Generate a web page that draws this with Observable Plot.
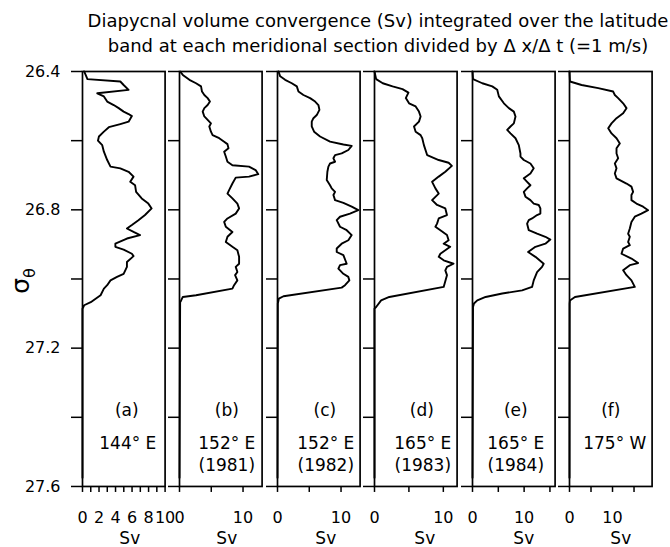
<!DOCTYPE html>
<html>
<head>
<meta charset="utf-8">
<script src="https://cdn.jsdelivr.net/npm/d3@7"></script>
<script src="https://cdn.jsdelivr.net/npm/@observablehq/plot@0.6"></script>
<style>
  body { margin: 0; background: #fff; }
  #chart { position: relative; width: 670px; height: 547px; font-family: "DejaVu Sans", sans-serif; color: #000; overflow: hidden; }
  #chart svg { position: absolute; top: 0; }
  .title { position: absolute; top: 9px; left: 78px; width: 600px; text-align: center; font-size: 18px; line-height: 24.5px; white-space: nowrap; }
</style>
</head>
<body>
<div id="chart">
  <div class="title">Diapycnal volume convergence (Sv) integrated over the latitude<br>band at each meridional section divided by Δ x/Δ t (=1 m/s)</div>
  <svg width="60" height="547" style="left:0">
    <text transform="translate(29,281) rotate(-90)" text-anchor="middle" font-family="DejaVu Sans" font-size="25" fill="#000">σ<tspan font-size="16" dy="6">θ</tspan></text>
  </svg>
</div>
<script>
// ---- data (sigma-theta levels and Sv values) ----
const sigmaA = [26.400,26.422,26.429,26.439,26.453,26.463,26.472,26.487,26.497,26.506,26.516,26.523,26.529,26.545,26.552,26.561,26.574,26.588,26.600,26.613,26.632,26.656,26.675,26.680,26.690,26.704,26.719,26.729,26.748,26.767,26.782,26.796,26.815,26.830,26.844,26.854,26.864,26.873,26.883,26.898,26.907,26.915,26.927,26.934,26.951,26.965,26.985,26.994,27.004,27.018,27.028,27.047,27.057,27.067,27.076,27.086,27.575];
const svA    = [0.2,0.6,4.58,4.98,5.58,1.79,2.59,2.99,3.78,4.38,4.98,5.58,5.98,5.58,4.58,3.19,2.59,1.99,1.87,2.39,2.59,2.99,3.39,4.58,5.58,6.18,5.78,6.37,6.49,7.17,7.97,8.37,7.57,6.77,5.98,5.38,6.18,6.97,5.38,3.98,3.98,4.98,5.98,6.18,5.38,5.38,4.98,4.18,3.39,2.99,2.59,2.19,1.59,1.00,0.20,0,0];

const sigmaB = [26.400,26.410,26.424,26.434,26.443,26.458,26.468,26.477,26.487,26.497,26.506,26.516,26.530,26.540,26.550,26.559,26.574,26.584,26.593,26.603,26.610,26.622,26.632,26.646,26.661,26.671,26.675,26.685,26.697,26.704,26.707,26.724,26.743,26.753,26.767,26.782,26.796,26.811,26.825,26.835,26.849,26.864,26.878,26.893,26.907,26.917,26.936,26.956,26.965,26.980,26.989,27.004,27.018,27.028,27.047,27.052,27.062,27.067,27.575];
const svB    = [0.1,0.52,1.56,2.60,3.39,3.54,3.91,4.43,4.79,4.43,3.91,3.65,3.91,4.43,4.95,4.69,4.95,5.21,6.25,7.03,7.55,7.71,7.03,7.29,7.55,8.33,10.94,11.98,12.40,10.94,8.85,8.33,7.81,7.55,8.33,9.11,9.38,8.85,7.55,7.03,7.29,8.33,7.55,7.29,8.33,9.11,9.38,9.38,8.85,9.11,8.75,9.11,8.59,8.33,2.60,0.52,0.26,0.1,0];

const sigmaC = [26.400,26.414,26.424,26.434,26.443,26.458,26.468,26.477,26.487,26.497,26.511,26.526,26.535,26.545,26.559,26.574,26.588,26.603,26.611,26.615,26.627,26.637,26.642,26.651,26.661,26.666,26.675,26.690,26.714,26.729,26.738,26.748,26.757,26.772,26.780,26.791,26.801,26.811,26.820,26.830,26.849,26.859,26.873,26.888,26.898,26.912,26.922,26.931,26.956,26.960,26.970,26.985,26.994,27.004,27.018,27.025,27.050,27.057,27.071,27.575];
const svC    = [0.16,0.42,1.20,2.25,3.04,3.30,4.08,5.13,5.92,6.44,6.60,6.18,5.65,5.39,5.39,5.76,6.70,8.27,10.37,11.68,11.15,10.10,9.06,8.80,9.06,8.27,8.01,7.85,7.75,8.27,8.53,9.06,8.80,9.06,10.37,11.68,12.72,11.41,9.84,9.32,9.84,10.89,11.68,11.15,10.10,9.32,9.32,10.37,10.89,9.84,9.58,10.37,11.15,11.31,10.63,10.10,0.94,0.21,0.05,0];

const sigmaD = [26.400,26.422,26.434,26.443,26.451,26.461,26.477,26.492,26.501,26.516,26.530,26.545,26.559,26.574,26.584,26.593,26.613,26.642,26.656,26.664,26.673,26.690,26.704,26.719,26.738,26.753,26.772,26.786,26.796,26.815,26.825,26.840,26.849,26.859,26.873,26.888,26.898,26.907,26.927,26.936,26.946,26.956,26.965,26.975,26.989,27.023,27.052,27.062,27.081,27.086,27.575];
const svD    = [0,0.24,1.20,2.63,4.07,4.93,4.55,5.02,5.98,6.46,6.70,6.46,5.74,5.98,6.70,6.94,7.18,7.66,9.33,10.77,11.24,10.29,9.33,8.37,8.85,9.33,8.37,9.09,10.29,10.53,9.33,9.09,8.85,9.57,10.53,10.77,10.05,11.00,9.57,9.33,10.05,11.48,10.53,10.29,10.53,10.05,2.15,0.96,0.24,0,0];

const sigmaE = [26.400,26.422,26.434,26.443,26.453,26.472,26.492,26.506,26.516,26.530,26.550,26.559,26.569,26.579,26.593,26.613,26.637,26.646,26.656,26.666,26.680,26.695,26.709,26.719,26.729,26.738,26.748,26.762,26.772,26.782,26.786,26.796,26.811,26.815,26.825,26.830,26.840,26.859,26.869,26.878,26.886,26.898,26.907,26.922,26.936,26.956,26.965,26.980,27.004,27.023,27.033,27.042,27.052,27.062,27.071,27.081,27.575];
const svE    = [0,0.10,1.90,3.83,4.79,5.11,6.08,7.04,8.01,8.33,8.01,7.36,6.72,7.36,8.33,8.97,9.29,9.29,9.94,11.22,11.86,11.22,9.94,10.58,11.22,10.58,9.94,10.26,11.22,11.86,12.83,13.15,13.15,12.51,11.54,10.90,10.58,10.90,12.51,14.12,15.08,14.12,12.19,10.77,12.19,13.79,13.47,12.51,11.86,11.54,9.61,5.76,2.54,0.93,0.29,0.10,0];

const sigmaF = [26.400,26.429,26.439,26.448,26.458,26.468,26.477,26.492,26.506,26.521,26.535,26.550,26.564,26.579,26.593,26.608,26.622,26.637,26.651,26.666,26.680,26.695,26.709,26.724,26.733,26.748,26.757,26.772,26.782,26.791,26.801,26.811,26.820,26.835,26.854,26.869,26.878,26.893,26.902,26.912,26.927,26.941,26.954,26.960,26.975,26.989,27.004,27.023,27.052,27.062,27.071,27.575];
const svF    = [0,0.11,2.81,6.68,10.15,10.54,11.31,12.47,13.25,12.47,10.93,9.77,9.00,9.77,10.93,11.70,10.93,10.93,11.31,10.54,10.93,10.54,10.93,13.25,14.40,14.79,14.40,14.40,15.56,17.11,18.27,16.72,15.18,14.40,14.02,13.63,14.02,13.63,14.02,12.47,12.09,14.40,15.95,14.02,12.47,13.25,14.40,15.18,1.27,0.11,0.03,0];

// panel labels
const panelTags  = ["(a)", "(b)", "(c)", "(d)", "(e)", "(f)"];
const panelLons  = ["144° E", "152° E", "152° E", "165° E", "165° E", "175° W"];
const panelYears = ["", "(1981)", "(1982)", "(1983)", "(1984)", ""];

// axes
const sigmaDomain = [26.4, 27.6];
const yTicks  = [26.4, 26.6, 26.8, 27.0, 27.2, 27.4, 27.6];
const yLabels = ["26.4", "", "26.8", "", "27.2", "", "27.6"];
const xDomains = [[0, 10], [0, 13], [0, 13], [0, 12], [0, 16], [0, 19.2]];
const xTicksA  = [0, 1, 2, 3, 4, 5, 6, 7, 8, 9, 10];
const xLabelsA = ["0", "", "2", "", "4", "", "6", "", "8", "", "10"];
const xTicksB  = [0, 5, 10];
const xLabelsB = ["0", "", "10"];
const xTicksE  = [0, 5, 10, 15];
const xLabelsE = ["0", "", "10", ""];
const xUnit = "Sv";

// ---- layout (pixels) ----
const panelLefts = [82, 179.3, 276.8, 374.2, 471.6, 569.2];
const panelW = 82.6;
const tagDx = [3, 6, 6, 6, 2, 0];
const lonDx = [4, 6, 7, 7, 2, 4];
const svDx  = [6, 6, 7, 9, 10, 10];

const sigmas = [sigmaA, sigmaB, sigmaC, sigmaD, sigmaE, sigmaF];
const svs = [svA, svB, svC, svD, svE, svF];
const xTickSets = [[xTicksA, xLabelsA], [xTicksB, xLabelsB], [xTicksB, xLabelsB], [xTicksB, xLabelsB], [xTicksE, xLabelsE], [xTicksE, xLabelsE]];
const yLabelMap = new Map(yTicks.map((t, i) => [t, yLabels[i]]));

const chart = document.getElementById("chart");

sigmas.forEach((sig, i) => {
  const data = sig.map((s, j) => ({sigma: s, sv: svs[i][j]}));
  const ml = i === 0 ? 82 : 14;
  const mr = 3;
  const [xt, xl] = xTickSets[i];
  const xLabelMap = new Map(xt.map((t, k) => [t, xl[k]]));
  const txt = (arr, dy, dx, size) => Plot.text(arr, {text: d => d, frameAnchor: "bottom", lineAnchor: "middle", dy, dx, fontSize: size, fill: "#000"});
  const marks = [
    Plot.axisY(yTicks, {
      tickSize: 11, tickPadding: 11, strokeWidth: 1.5, fontSize: 16, label: null,
      tickFormat: i === 0 ? (d => yLabelMap.get(d) ?? "") : (() => "")
    }),
    Plot.axisX(xt, {
      tickSize: 6, tickPadding: 19, strokeWidth: 1.5, fontSize: 16, label: null,
      tickFormat: d => xLabelMap.get(d) ?? ""
    }),
    Plot.frame({stroke: "#000", strokeWidth: 1.7}),
    Plot.line(data, {x: "sv", y: "sigma", stroke: "#000", strokeWidth: 1.9, curve: "linear"}),
    txt([panelTags[i]], -76, tagDx[i], 17),
    txt([panelLons[i]], -43, lonDx[i], 17),
    txt([panelYears[i]], -21, lonDx[i], 17),
    txt([xUnit], 52, svDx[i], 17)
  ];
  const svg = Plot.plot({
    width: ml + panelW + mr,
    height: 547,
    marginLeft: ml, marginRight: mr, marginTop: 71, marginBottom: 61,
    style: {fontFamily: "DejaVu Sans", fontSize: "16px", color: "#000", background: "transparent", overflow: "visible"},
    x: {domain: xDomains[i]},
    y: {domain: sigmaDomain, reverse: true},
    marks
  });
  svg.style.position = "absolute";
  svg.style.top = "0px";
  svg.style.left = (panelLefts[i] - ml) + "px";
  chart.appendChild(svg);
});
</script>
</body>
</html>
